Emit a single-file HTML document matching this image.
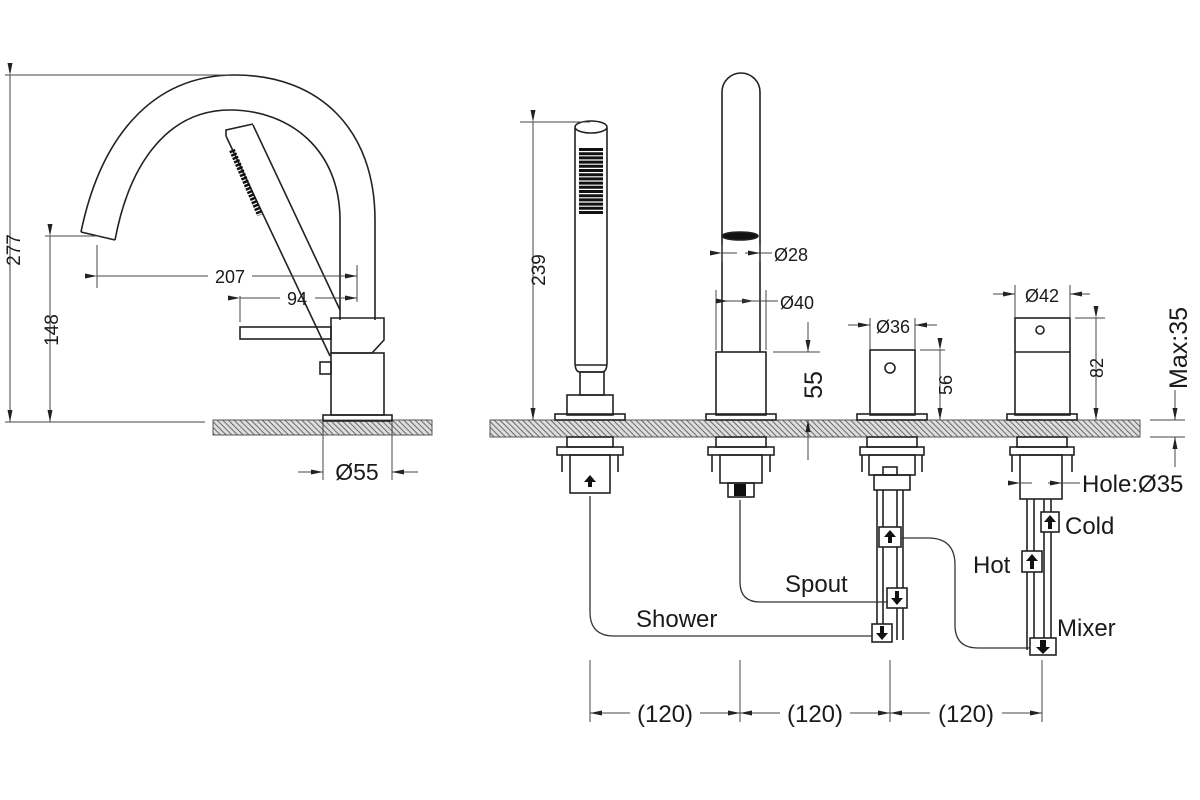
<!DOCTYPE html>
<html><head><meta charset="utf-8"><style>
html,body{margin:0;padding:0;background:#fff;}
svg{display:block;}
text{font-family:"Liberation Sans",Arial,sans-serif;fill:#1a1a1a;}
</style></head><body>
<svg width="1200" height="800" viewBox="0 0 1200 800" xmlns="http://www.w3.org/2000/svg">
<defs>
<pattern id="h" width="4" height="4" patternUnits="userSpaceOnUse" patternTransform="rotate(-45)">
<rect width="4" height="4" fill="#ddd"/><line x1="0" y1="0" x2="0" y2="4" stroke="#444" stroke-width="1.5"/></pattern>
<marker id="a" markerWidth="12" markerHeight="6" refX="12" refY="3" orient="auto" markerUnits="userSpaceOnUse"><path d="M0,0.5 L12,3 L0,5.5z" fill="#222"/></marker>
</defs>
<g fill="none" stroke="#222" stroke-width="1.6">
<rect x="213" y="420" width="219" height="15" fill="url(#h)" stroke="#555" stroke-width="1"/>
<rect x="490" y="420" width="650" height="17" fill="url(#h)" stroke="#555" stroke-width="1"/>

<path d="M81,232 C100,140 150,75 235,75 C320,75 375,130 375,220 L375,320"/>
<path d="M115,240 C130,160 170,110 230,110 C290,110 340,150 340,220 L340,320"/>
<path d="M81,232 L115,240"/>
<path d="M331,318 H384 V340 L372,353 H331 Z"/>
<rect x="331" y="353" width="53" height="62"/>
<rect x="323" y="415" width="69" height="6"/>
<rect x="240" y="327" width="91" height="12"/>
<rect x="320" y="362" width="11" height="12"/>
<path d="M226,136 L330,356 M253,125 L340,310 M226,136 L226,130 L253,124"/>
<path d="M232,150 L260,215" stroke="#111" stroke-width="6" stroke-dasharray="2.5 1.2"/>
</g>
<g fill="none" stroke="#444" stroke-width="1">
<path d="M5,75 H230 M5,422 H205 M45,236 H100"/>
<line x1="10" y1="75" x2="10" y2="422" marker-start="url(#a)" marker-end="url(#a)"/>
<line x1="50" y1="236" x2="50" y2="422" marker-start="url(#a)" marker-end="url(#a)"/>
<path d="M97,245 V288 M357,265 V302 M240,296 V322"/>
<line x1="97" y1="276" x2="208" y2="276" marker-start="url(#a)"/>
<line x1="252" y1="276" x2="357" y2="276" marker-end="url(#a)"/>
<line x1="240" y1="298" x2="280" y2="298" marker-start="url(#a)"/>
<line x1="315" y1="298" x2="357" y2="298" marker-end="url(#a)"/>
<path d="M323,421 V480 M392,421 V480"/>
<line x1="298" y1="472" x2="323" y2="472" marker-end="url(#a)"/>
<line x1="418" y1="472" x2="392" y2="472" marker-end="url(#a)"/>
</g>
<text x="230" y="283" font-size="18" text-anchor="middle">207</text>
<text x="297" y="305" font-size="18" text-anchor="middle">94</text>
<text x="357" y="480" font-size="23" text-anchor="middle">Ø55</text>
<text transform="translate(20,250) rotate(-90)" font-size="19" text-anchor="middle">277</text>
<text transform="translate(58,330) rotate(-90)" font-size="19" text-anchor="middle">148</text>

<g fill="none" stroke="#222" stroke-width="1.6">
<path d="M575,128 V362 Q575,372 580,372 H602 Q607,372 607,362 V128"/>
<ellipse cx="591" cy="127" rx="16" ry="6"/>
<path d="M576,365 H606"/>
<rect x="580" y="372" width="24" height="23"/>
<rect x="567" y="395" width="46" height="20"/>
<rect x="555" y="414" width="70" height="6"/>
<rect x="567" y="437" width="46" height="10"/>
<rect x="557" y="447" width="66" height="8"/>
<path d="M562,455 V472 M618,455 V472"/>
<rect x="570" y="455" width="40" height="38"/>
<path d="M722,352 V92 A19,19 0 0 1 760,92 V352"/>
<ellipse cx="740" cy="236" rx="18" ry="4" fill="#111"/>
<rect x="716" y="352" width="50" height="63"/>
<rect x="706" y="414" width="70" height="6"/>
<rect x="716" y="437" width="50" height="10"/>
<rect x="708" y="447" width="66" height="8"/>
<path d="M712,455 V472 M770,455 V472"/>
<rect x="720" y="455" width="42" height="28"/>
<rect x="728" y="483" width="26" height="14"/>
<rect x="870" y="350" width="45" height="65"/>
<circle cx="890" cy="368" r="5"/>
<rect x="857" y="414" width="70" height="6"/>
<rect x="867" y="437" width="50" height="10"/>
<rect x="860" y="447" width="64" height="8"/>
<path d="M862,455 V472 M922,455 V472"/>
<rect x="869" y="455" width="46" height="20"/>
<rect x="883" y="467" width="14" height="8"/>
<rect x="874" y="475" width="36" height="15"/>
<path d="M877,490 V640 M883,490 V640 M897,490 V640 M903,490 V640"/>
<rect x="879" y="527" width="22" height="20" fill="#fff"/>
<rect x="887" y="588" width="20" height="20" fill="#fff"/>
<rect x="872" y="624" width="20" height="18" fill="#fff"/>
<rect x="1015" y="318" width="55" height="97"/>
<path d="M1015,352 H1070"/>
<circle cx="1040" cy="330" r="4"/>
<rect x="1007" y="414" width="70" height="6"/>
<rect x="1017" y="437" width="50" height="10"/>
<rect x="1010" y="447" width="64" height="8"/>
<path d="M1012,455 V472 M1072,455 V472"/>
<rect x="1020" y="455" width="42" height="44"/>
<path d="M1027,499 V650 M1034,499 V650 M1044,499 V512 M1051,499 V512"/>
<path d="M1044,530 V640 M1051,530 V640"/>
<rect x="1041" y="512" width="18" height="20" fill="#fff"/>
<rect x="1022" y="551" width="20" height="21" fill="#fff"/>
<rect x="1030" y="638" width="26" height="17" fill="#fff"/>
</g>
<g stroke="#111" stroke-width="4" stroke-dasharray="3 1.2" fill="none">
<path d="M581,148 V214 M585,148 V214 M589,148 V214 M593,148 V214 M597,148 V214 M601,148 V214"/>
</g>
<g fill="#111">
<path d="M590,475 L584,482 H588 V487 H592 V482 H596 Z"/>
<rect x="734" y="484" width="12" height="12"/>
<path d="M890,530 L884,537 H888 V543 H892 V537 H896 Z"/>
<path d="M897,605 L891,598 H895 V591 H899 V598 H903 Z"/>
<path d="M882,640 L876,633 H880 V626 H884 V633 H888 Z"/>
<path d="M1050,515 L1044,522 H1048 V529 H1052 V522 H1056 Z"/>
<path d="M1032,554 L1026,561 H1030 V569 H1034 V561 H1038 Z"/>
<path d="M1043,654 L1036,647 H1040 V640 H1046 V647 H1050 Z"/>
</g>
<g fill="none" stroke="#333" stroke-width="1.3">
<path d="M590,496 V612 Q590,636 614,636 H872"/>
<path d="M740,500 V582 Q740,602 760,602 H888"/>
<path d="M901,538 H928 Q955,538 955,565 V625 Q955,648 978,648 H1030"/>
</g>
<g fill="none" stroke="#444" stroke-width="1">
<path d="M520,122 H590"/>
<line x1="533" y1="122" x2="533" y2="420" marker-start="url(#a)" marker-end="url(#a)"/>
<path d="M722,245 V262 M760,245 V262"/>
<line x1="722" y1="253" x2="737" y2="253" marker-start="url(#a)"/>
<line x1="745" y1="253" x2="760" y2="253" marker-end="url(#a)"/>
<line x1="760" y1="253" x2="772" y2="253"/>
<path d="M716,290 V350 M766,290 V350"/>
<line x1="716" y1="301" x2="728" y2="301" marker-end="url(#a)"/>
<line x1="754" y1="301" x2="766" y2="301" marker-start="url(#a)"/>
<line x1="728" y1="301" x2="754" y2="301"/>
<line x1="766" y1="301" x2="778" y2="301"/>
<path d="M773,352 H820 M808,322 V352 M808,420 V460"/>
<line x1="808" y1="330" x2="808" y2="352" marker-end="url(#a)"/>
<line x1="808" y1="440" x2="808" y2="420" marker-end="url(#a)"/>
<path d="M870,318 V350 M915,318 V350"/>
<line x1="848" y1="325" x2="870" y2="325" marker-end="url(#a)"/>
<line x1="937" y1="325" x2="915" y2="325" marker-end="url(#a)"/>
<path d="M920,350 H945"/>
<line x1="940" y1="350" x2="940" y2="420" marker-start="url(#a)" marker-end="url(#a)"/>
<path d="M1015,285 V318 M1070,285 V318"/>
<line x1="993" y1="294" x2="1015" y2="294" marker-end="url(#a)"/>
<line x1="1090" y1="294" x2="1070" y2="294" marker-end="url(#a)"/>
<path d="M1075,318 H1105"/>
<line x1="1096" y1="318" x2="1096" y2="420" marker-start="url(#a)" marker-end="url(#a)"/>
<path d="M1150,420 H1185 M1150,437 H1185"/>
<line x1="1175" y1="390" x2="1175" y2="420" marker-end="url(#a)"/>
<line x1="1175" y1="467" x2="1175" y2="437" marker-end="url(#a)"/>
<line x1="1020" y1="483" x2="1032" y2="483" marker-start="url(#a)"/>
<line x1="1048" y1="483" x2="1062" y2="483" marker-end="url(#a)"/>
<line x1="1062" y1="483" x2="1080" y2="483"/>
<path d="M590,660 V722 M740,660 V722 M890,660 V722 M1042,660 V722"/>
<line x1="630" y1="713" x2="590" y2="713" marker-end="url(#a)"/>
<line x1="700" y1="713" x2="740" y2="713" marker-end="url(#a)"/>
<line x1="780" y1="713" x2="740" y2="713" marker-end="url(#a)"/>
<line x1="850" y1="713" x2="890" y2="713" marker-end="url(#a)"/>
<line x1="930" y1="713" x2="890" y2="713" marker-end="url(#a)"/>
<line x1="1002" y1="713" x2="1042" y2="713" marker-end="url(#a)"/>
</g>
<text transform="translate(545,270) rotate(-90)" font-size="19" text-anchor="middle">239</text>
<text x="774" y="261" font-size="18">Ø28</text>
<text x="780" y="309" font-size="18">Ø40</text>
<text transform="translate(822,385) rotate(-90)" font-size="25" text-anchor="middle">55</text>
<text x="893" y="333" font-size="18" text-anchor="middle">Ø36</text>
<text transform="translate(952,385) rotate(-90)" font-size="18" text-anchor="middle">56</text>
<text x="1042" y="302" font-size="18" text-anchor="middle">Ø42</text>
<text transform="translate(1103,368) rotate(-90)" font-size="18" text-anchor="middle">82</text>
<text transform="translate(1187,348) rotate(-90)" font-size="25" text-anchor="middle">Max:35</text>
<text x="1082" y="492" font-size="24">Hole:Ø35</text>
<text x="1065" y="534" font-size="24">Cold</text>
<text x="973" y="573" font-size="24">Hot</text>
<text x="1057" y="636" font-size="24">Mixer</text>
<text x="785" y="592" font-size="24">Spout</text>
<text x="636" y="627" font-size="24">Shower</text>
<text x="665" y="722" font-size="24" text-anchor="middle">(120)</text>
<text x="815" y="722" font-size="24" text-anchor="middle">(120)</text>
<text x="966" y="722" font-size="24" text-anchor="middle">(120)</text>
</svg>
</body></html>
